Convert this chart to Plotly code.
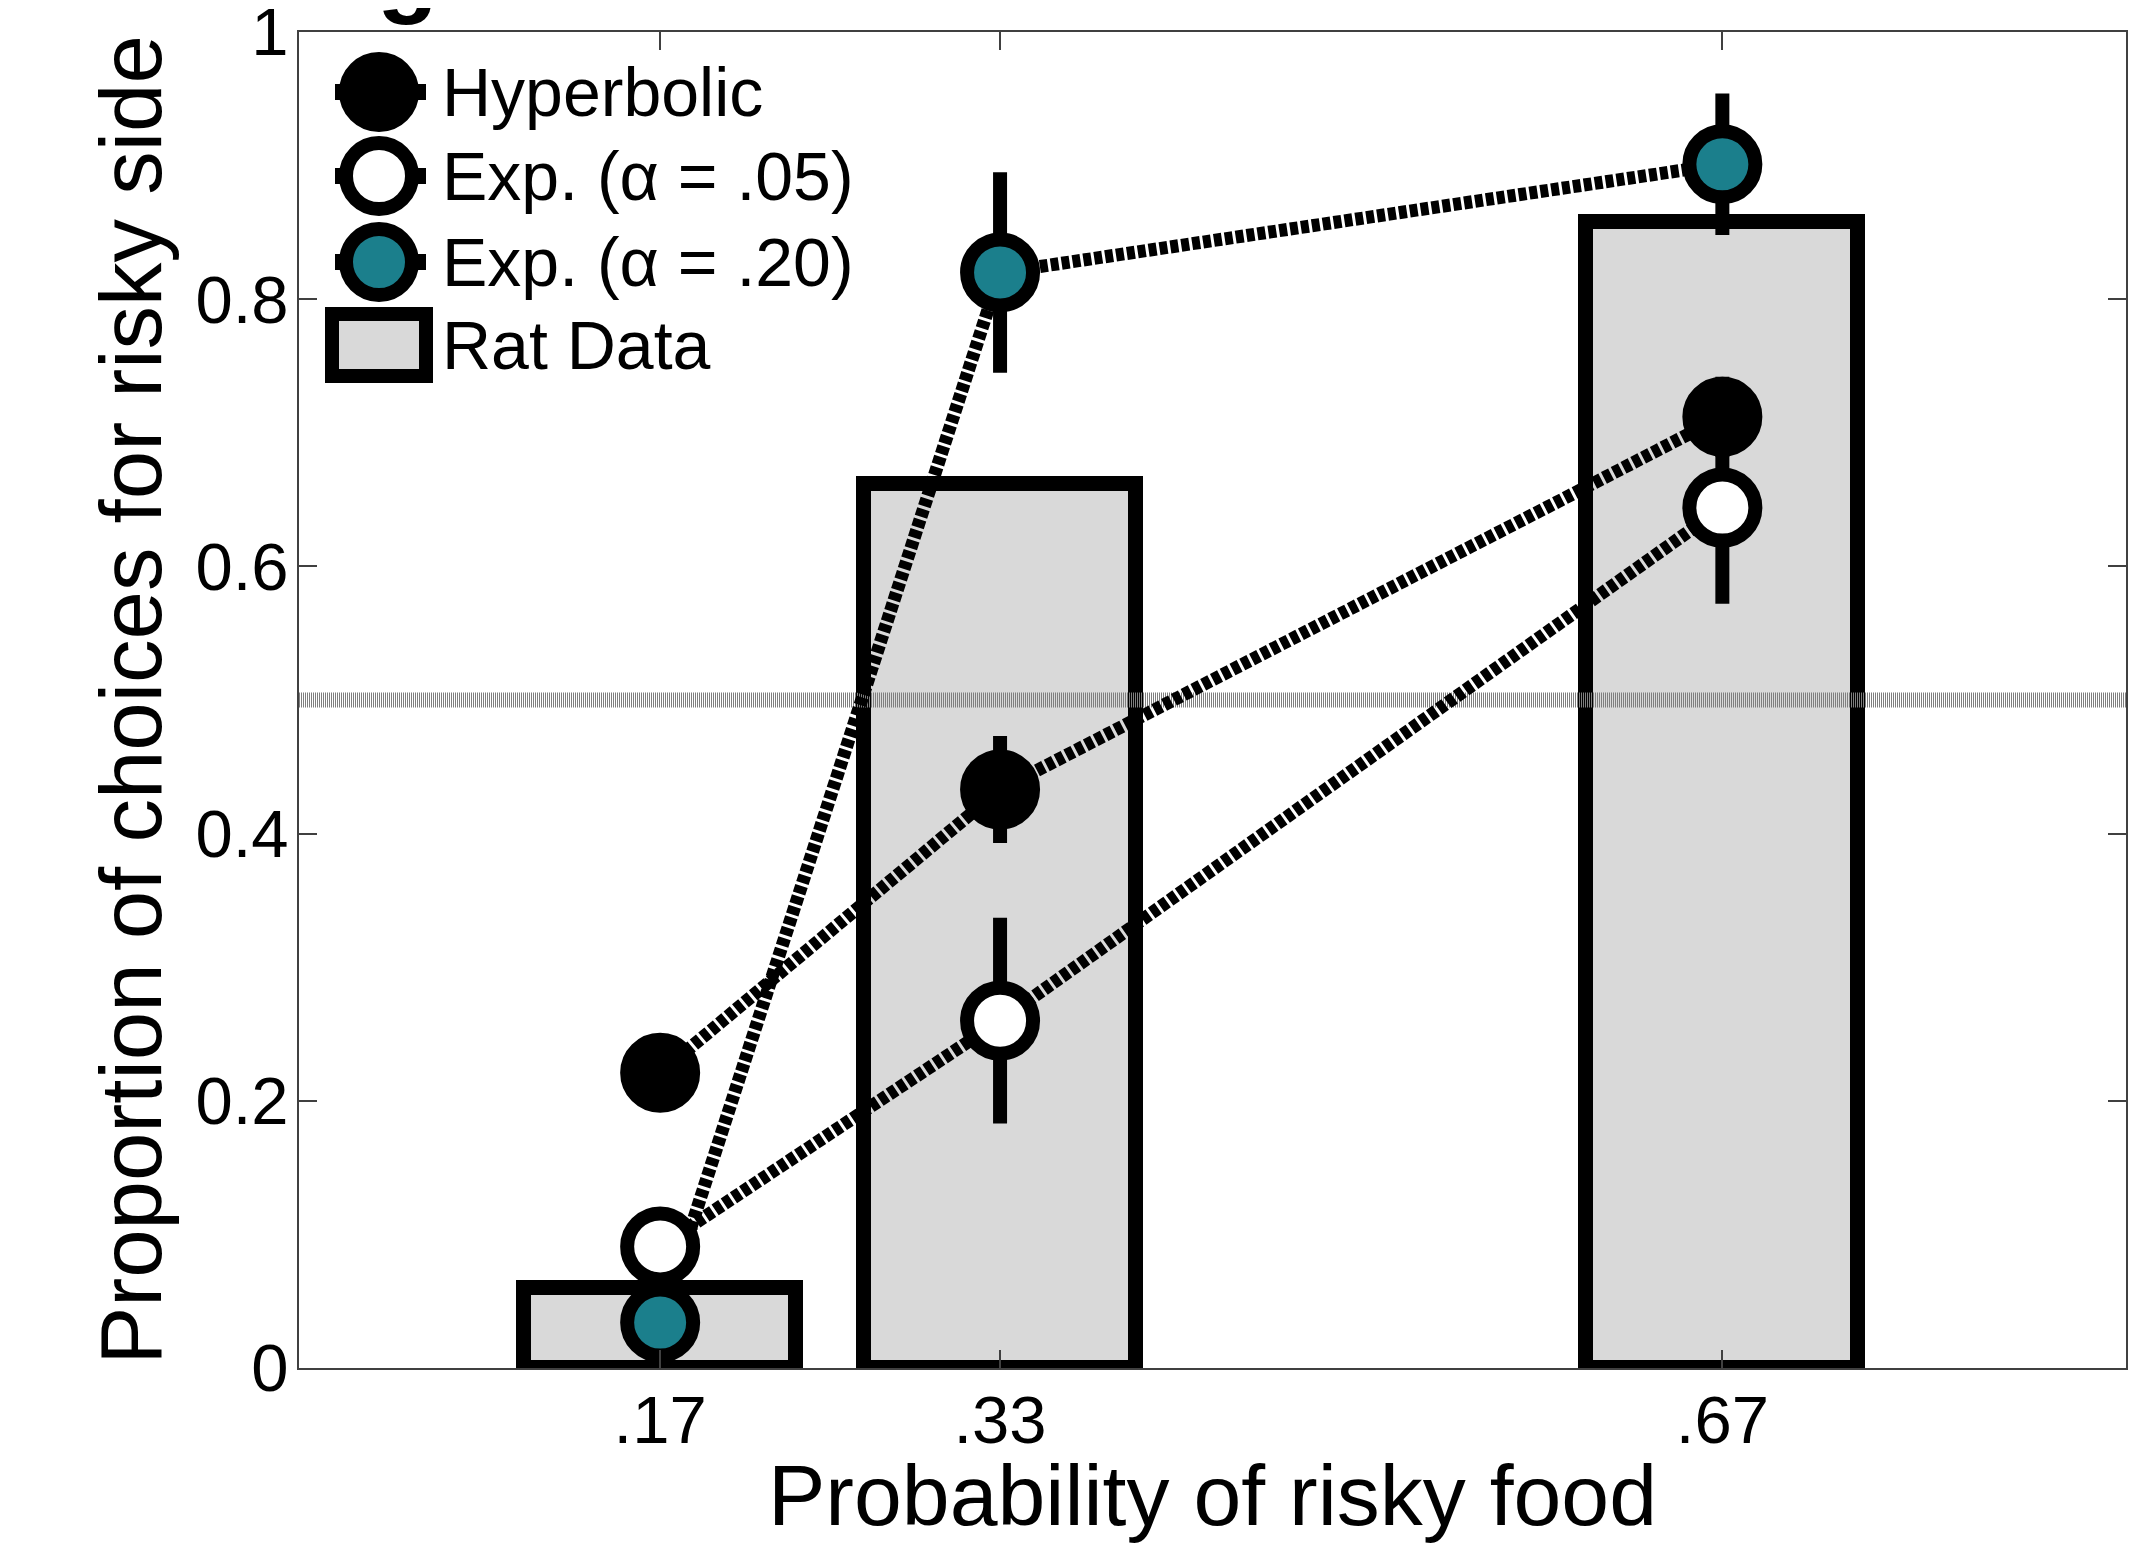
import plotly.graph_objects as go

# ---------------- data ----------------
probabilities = [0.17, 0.33, 0.67]
prob_labels = [".17", ".33", ".67"]

rat_data = [0.060, 0.662, 0.858]

hyperbolic = [0.221, 0.433, 0.712]
hyperbolic_err = [0.020, 0.040, 0.030]

exp05 = [0.091, 0.260, 0.644]
exp05_err = [0.025, 0.077, 0.072]

exp20 = [0.034, 0.820, 0.901]
exp20_err = [0.020, 0.075, 0.053]

chance_level = 0.5

y_tickvals = [0, 0.2, 0.4, 0.6, 0.8, 1]
y_ticktext = ["0", "0.2", "0.4", "0.6", "0.8", "1"]

legend_labels = ["Hyperbolic", "Exp. (\u03b1 = .05)", "Exp. (\u03b1 = .20)", "Rat Data"]

# ---------------- style ----------------
# page has an 8px body margin, so the figure is shifted accordingly
W, H = 2131, 1535
ML, MR, MT, MB = 291, 13, 24, 175
PW, PH = W - ML - MR, H - MT - MB
X_RANGE = [0, 0.86]
FONT = "Liberation Sans, Arial, Helvetica, sans-serif"
TEAL = "#1b7f8c"
BAR_FILL = "#d9d9d9"
DASH = "8px,3px"
MSIZE, MLINE = 66, 14

fig = go.Figure()

# bars
fig.add_trace(go.Bar(
    x=probabilities, y=rat_data, width=0.128,
    marker=dict(color=BAR_FILL, line=dict(color="black", width=15)),
    showlegend=False,
))

# chance line
fig.add_trace(go.Scatter(
    x=X_RANGE, y=[chance_level, chance_level], mode="lines",
    line=dict(color="#7f7f7f", width=15, dash="1px,1px"),
    showlegend=False, hoverinfo="skip",
))

series = [
    (hyperbolic, hyperbolic_err, "black"),
    (exp05, exp05_err, "white"),
    (exp20, exp20_err, TEAL),
]
for vals, errs, fill in series:
    fig.add_trace(go.Scatter(
        x=probabilities, y=vals, mode="lines",
        line=dict(color="black", width=13, dash=DASH),
        showlegend=False, hoverinfo="skip",
    ))
for vals, errs, fill in series:
    fig.add_trace(go.Scatter(
        x=probabilities, y=vals, mode="markers",
        marker=dict(size=MSIZE, color=fill, line=dict(color="black", width=MLINE)),
        error_y=dict(type="data", array=errs, visible=True, color="black",
                     thickness=14, width=0),
        showlegend=False,
    ))

# ---------------- custom legend (pixel-coordinate overlay axes) ----------------
leg_x = 80
leg_rows = [60, 144, 230]
leg_fills = ["black", "white", TEAL]
for yy, fill in zip(leg_rows, leg_fills):
    fig.add_trace(go.Scatter(
        x=[leg_x - 44, leg_x + 47], y=[yy, yy], mode="lines",
        line=dict(color="black", width=16), xaxis="x2", yaxis="y2",
        showlegend=False, hoverinfo="skip",
    ))
    fig.add_trace(go.Scatter(
        x=[leg_x], y=[yy], mode="markers",
        marker=dict(size=MSIZE, color=fill, line=dict(color="black", width=MLINE)),
        xaxis="x2", yaxis="y2", showlegend=False, hoverinfo="skip",
    ))
rat_row = 313
fig.add_shape(type="rect", xref="x2", yref="y2",
              x0=33, x1=127, y0=rat_row - 31, y1=rat_row + 31,
              fillcolor=BAR_FILL, line=dict(color="black", width=14))
for yy, label in zip(leg_rows + [rat_row], legend_labels):
    fig.add_annotation(xref="x2", yref="y2", x=141, y=yy, text=label,
                       xanchor="left", yanchor="middle", showarrow=False,
                       font=dict(family=FONT, size=68, color="black"))

# cut-off panel letter at the very top of the page
fig.add_annotation(xref="paper", yref="paper", x=108 / PW, y=1 + 63 / PH, text="<b>g</b>",
                   xanchor="center", yanchor="middle", showarrow=False,
                   font=dict(family=FONT, size=100, color="black"))

axis_common = dict(showgrid=False, zeroline=False, linecolor="#404040", linewidth=2,
                   mirror="ticks", ticks="inside", ticklen=18, tickwidth=2,
                   tickcolor="#404040", showline=True, ticklabeloverflow="allow",
                   tickfont=dict(family=FONT, size=67, color="black"))

fig.update_layout(
    width=W, height=H,
    margin=dict(l=ML, r=MR, t=MT, b=MB, autoexpand=False),
    paper_bgcolor="white", plot_bgcolor="white",
    bargap=0,
    xaxis=dict(range=X_RANGE, tickvals=probabilities, ticktext=prob_labels,
               ticklabelstandoff=-7,
               title=dict(text="Probability of risky food", standoff=9,
                          font=dict(family=FONT, size=86, color="black")),
               **axis_common),
    yaxis=dict(range=[0, 1], tickvals=y_tickvals, ticktext=y_ticktext,
               ticklabelstandoff=-5,
               title=dict(text="Proportion of choices for risky side", standoff=5,
                          font=dict(family=FONT, size=87, color="black")),
               **axis_common),
    xaxis2=dict(overlaying="x", anchor="y2", range=[0, PW], visible=False, fixedrange=True),
    yaxis2=dict(overlaying="y", anchor="x2", range=[PH, 0], visible=False, fixedrange=True),
    showlegend=False,
)

fig.write_html("out.html")
